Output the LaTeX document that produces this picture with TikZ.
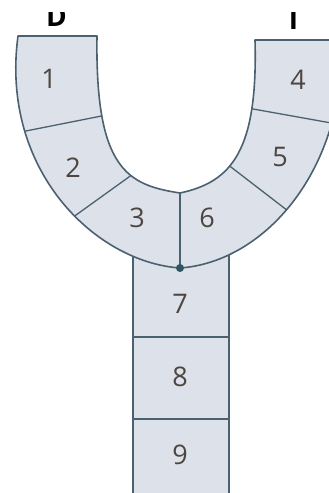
\documentclass[tikz,border=0pt]{standalone}
\usepackage{fontspec}
\setmainfont{Open Sans}
\definecolor{fillc}{HTML}{DDE1EA}
\definecolor{linec}{HTML}{4B6170}
\definecolor{txtc}{HTML}{4D4540}
\definecolor{dotc}{HTML}{2D5662}
\begin{document}
\begin{tikzpicture}[x=1pt,y=-1pt,
  region/.style={fill=fillc, draw=linec, line width=1.6pt, line join=round},
  divider/.style={draw=linec, line width=1.3pt},
  num/.style={text=txtc, font=\fontsize{27}{27}\selectfont, inner sep=0pt},
  toplabel/.style={text=black, font=\bfseries\fontsize{28}{28}\selectfont, inner sep=0pt, anchor=base}]
\useasboundingbox (0,0) rectangle (329,493);
\clip (0,0) rectangle (329,493);
% stem
\path[region] (133,240) rectangle (229,505);
\coordinate (s1l) at (133,337); \coordinate (s1r) at (229,337);
\coordinate (s2l) at (133,419); \coordinate (s2r) at (229,419);
\draw[divider] (s1l) -- (s1r);
\draw[divider] (s2l) -- (s2r);
% U shape
\path[region] (18,36) .. controls (0,170) and (95,262) .. (180,268)
    coordinate[pos=0.26] (o12) coordinate[pos=0.57] (o23) coordinate (ob)
  .. controls (265,262) and (345,170) .. (342,40)
    coordinate[pos=0.46] (o65) coordinate[pos=0.77] (o54)
  -- (255,40)
  .. controls (258,150) and (232,182) .. (180,193)
    coordinate[pos=0.25] (i54) coordinate[pos=0.6] (i65) coordinate (ib)
  .. controls (128,185) and (95,170) .. (97,36)
    coordinate[pos=0.37] (i23) coordinate[pos=0.75] (i12)
  -- cycle;
\draw[divider] (i12) -- (o12);
\draw[divider] (i23) -- (o23);
\draw[divider] (ib) -- (ob);
\draw[divider] (i65) -- (o65);
\draw[divider] (i54) -- (o54);
\fill[dotc] (ob) circle (4);
% labels
\node[num] (n1) at (49,79) {1};
\node[num] (n2) at (73,168) {2};
\node[num] (n3) at (137,218) {3};
\node[num] (n6) at (207,218) {6};
\node[num] (n5) at (280,157) {5};
\node[num] (n4) at (298,80) {4};
\node[num] (n7) at (180,304) {7};
\node[num] (n8) at (180,377) {8};
\node[num] (n9) at (180,455) {9};
% top letters, cut off at the top edge as in the reference
\begin{scope}
  \clip (0,12) rectangle (329,40);
  \node[toplabel] (lD) at (56.5,26) {D};
  \node[toplabel] (lI) at (293.5,29) {I};
\end{scope}
\end{tikzpicture}
\end{document}
